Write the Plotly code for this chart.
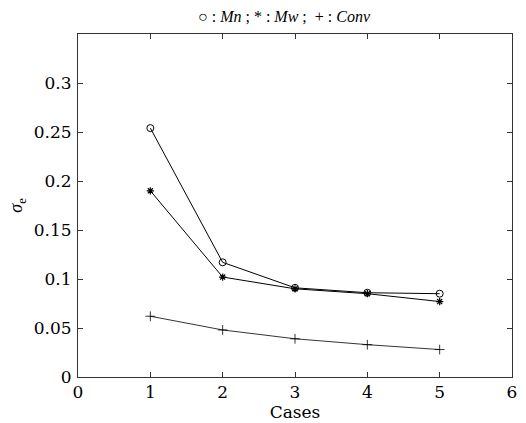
import plotly.graph_objects as go

cases = [1, 2, 3, 4, 5]
sigma_mn = [0.254, 0.117, 0.091, 0.086, 0.085]
sigma_mw = [0.190, 0.102, 0.090, 0.085, 0.077]
sigma_conv = [0.062, 0.048, 0.039, 0.033, 0.028]

x_ticks = [0, 1, 2, 3, 4, 5, 6]
y_ticks = [0, 0.05, 0.1, 0.15, 0.2, 0.25, 0.3]
y_tick_text = ["0", "0.05", "0.1", "0.15", "0.2", "0.25", "0.3"]

times = "Liberation Serif, serif"
serif = "DejaVu Serif, serif"

fig = go.Figure()
fig.add_trace(go.Scatter(
    x=cases, y=sigma_mn, mode="lines+markers", name="Mn",
    line=dict(color="black", width=1),
    marker=dict(symbol="circle-open", size=7, color="black", line=dict(width=1)),
))
fig.add_trace(go.Scatter(
    x=cases, y=sigma_mw, mode="lines+markers", name="Mw",
    line=dict(color="black", width=1),
    marker=dict(symbol="asterisk-open", size=6, color="black", line=dict(width=1.2)),
))
fig.add_trace(go.Scatter(
    x=cases, y=sigma_conv, mode="lines+markers", name="Conv",
    line=dict(color="black", width=0.8),
    marker=dict(symbol="cross-thin-open", size=7, color="black", line=dict(width=0.8)),
))

axis_common = dict(
    showline=True, linecolor="#333333", linewidth=1, mirror="ticks",
    ticks="inside", ticklen=5, tickcolor="#333333", tickwidth=1,
    showgrid=False, zeroline=False,
    tickfont=dict(family=serif, size=17, color="black"),
)

fig.update_layout(
    width=526, height=423,
    margin=dict(l=78, r=9, t=34, b=38),
    paper_bgcolor="white", plot_bgcolor="white",
    showlegend=False,
    title=dict(
        text="○ : <i>Mn</i> ; * : <i>Mw</i> ;  + : <i>Conv</i>",
        x=0.54, xanchor="center", y=0.962, yanchor="middle",
        font=dict(family=times, size=16, color="black"),
    ),
    xaxis=dict(
        range=[0, 6], tickvals=x_ticks, ticklabelstandoff=0,
        title=dict(text="Cases", standoff=0, font=dict(family=serif, size=17, color="black")),
        **axis_common,
    ),
    yaxis=dict(
        range=[0, 0.35], tickvals=y_ticks, ticktext=y_tick_text, ticklabelstandoff=2,
        title=dict(text="<i>σ</i><sub>e</sub>", standoff=6, font=dict(family=times, size=18, color="black")),
        **axis_common,
    ),
)

fig.write_html("out.html")
